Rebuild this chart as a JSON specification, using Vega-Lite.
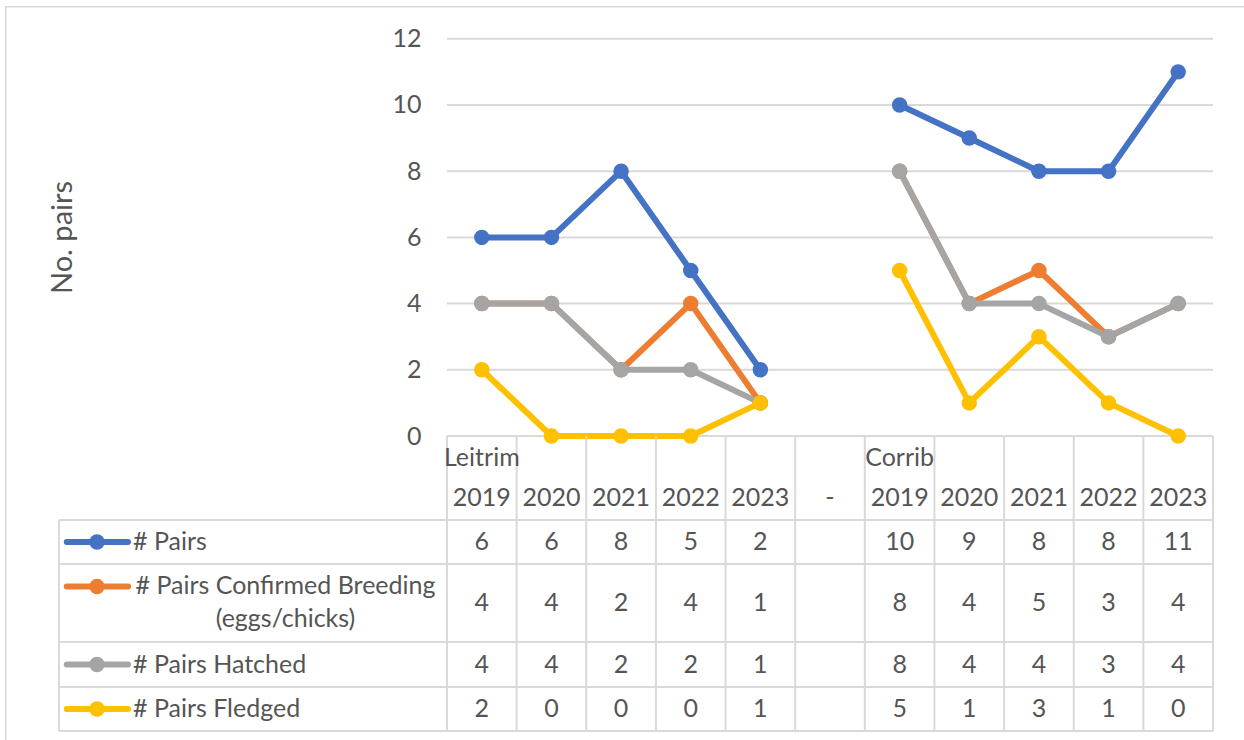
{
  "$schema": "https://vega.github.io/schema/vega-lite/v6.json",
  "padding": {"left": 5, "top": 5, "right": 0, "bottom": 0},
  "background": "white",
  "spacing": 0,
  "bounds": "flush",
  "datasets": {
    "values": [
      {"series": "# Pairs", "site": "Leitrim", "year": "2019", "col": "Leitrim 2019", "value": 6},
      {"series": "# Pairs", "site": "Leitrim", "year": "2020", "col": "Leitrim 2020", "value": 6},
      {"series": "# Pairs", "site": "Leitrim", "year": "2021", "col": "Leitrim 2021", "value": 8},
      {"series": "# Pairs", "site": "Leitrim", "year": "2022", "col": "Leitrim 2022", "value": 5},
      {"series": "# Pairs", "site": "Leitrim", "year": "2023", "col": "Leitrim 2023", "value": 2},
      {"series": "# Pairs", "site": "Corrib", "year": "2019", "col": "Corrib 2019", "value": 10},
      {"series": "# Pairs", "site": "Corrib", "year": "2020", "col": "Corrib 2020", "value": 9},
      {"series": "# Pairs", "site": "Corrib", "year": "2021", "col": "Corrib 2021", "value": 8},
      {"series": "# Pairs", "site": "Corrib", "year": "2022", "col": "Corrib 2022", "value": 8},
      {"series": "# Pairs", "site": "Corrib", "year": "2023", "col": "Corrib 2023", "value": 11},
      {"series": "# Pairs Confirmed Breeding (eggs/chicks)", "site": "Leitrim", "year": "2019", "col": "Leitrim 2019", "value": 4},
      {"series": "# Pairs Confirmed Breeding (eggs/chicks)", "site": "Leitrim", "year": "2020", "col": "Leitrim 2020", "value": 4},
      {"series": "# Pairs Confirmed Breeding (eggs/chicks)", "site": "Leitrim", "year": "2021", "col": "Leitrim 2021", "value": 2},
      {"series": "# Pairs Confirmed Breeding (eggs/chicks)", "site": "Leitrim", "year": "2022", "col": "Leitrim 2022", "value": 4},
      {"series": "# Pairs Confirmed Breeding (eggs/chicks)", "site": "Leitrim", "year": "2023", "col": "Leitrim 2023", "value": 1},
      {"series": "# Pairs Confirmed Breeding (eggs/chicks)", "site": "Corrib", "year": "2019", "col": "Corrib 2019", "value": 8},
      {"series": "# Pairs Confirmed Breeding (eggs/chicks)", "site": "Corrib", "year": "2020", "col": "Corrib 2020", "value": 4},
      {"series": "# Pairs Confirmed Breeding (eggs/chicks)", "site": "Corrib", "year": "2021", "col": "Corrib 2021", "value": 5},
      {"series": "# Pairs Confirmed Breeding (eggs/chicks)", "site": "Corrib", "year": "2022", "col": "Corrib 2022", "value": 3},
      {"series": "# Pairs Confirmed Breeding (eggs/chicks)", "site": "Corrib", "year": "2023", "col": "Corrib 2023", "value": 4},
      {"series": "# Pairs Hatched", "site": "Leitrim", "year": "2019", "col": "Leitrim 2019", "value": 4},
      {"series": "# Pairs Hatched", "site": "Leitrim", "year": "2020", "col": "Leitrim 2020", "value": 4},
      {"series": "# Pairs Hatched", "site": "Leitrim", "year": "2021", "col": "Leitrim 2021", "value": 2},
      {"series": "# Pairs Hatched", "site": "Leitrim", "year": "2022", "col": "Leitrim 2022", "value": 2},
      {"series": "# Pairs Hatched", "site": "Leitrim", "year": "2023", "col": "Leitrim 2023", "value": 1},
      {"series": "# Pairs Hatched", "site": "Corrib", "year": "2019", "col": "Corrib 2019", "value": 8},
      {"series": "# Pairs Hatched", "site": "Corrib", "year": "2020", "col": "Corrib 2020", "value": 4},
      {"series": "# Pairs Hatched", "site": "Corrib", "year": "2021", "col": "Corrib 2021", "value": 4},
      {"series": "# Pairs Hatched", "site": "Corrib", "year": "2022", "col": "Corrib 2022", "value": 3},
      {"series": "# Pairs Hatched", "site": "Corrib", "year": "2023", "col": "Corrib 2023", "value": 4},
      {"series": "# Pairs Fledged", "site": "Leitrim", "year": "2019", "col": "Leitrim 2019", "value": 2},
      {"series": "# Pairs Fledged", "site": "Leitrim", "year": "2020", "col": "Leitrim 2020", "value": 0},
      {"series": "# Pairs Fledged", "site": "Leitrim", "year": "2021", "col": "Leitrim 2021", "value": 0},
      {"series": "# Pairs Fledged", "site": "Leitrim", "year": "2022", "col": "Leitrim 2022", "value": 0},
      {"series": "# Pairs Fledged", "site": "Leitrim", "year": "2023", "col": "Leitrim 2023", "value": 1},
      {"series": "# Pairs Fledged", "site": "Corrib", "year": "2019", "col": "Corrib 2019", "value": 5},
      {"series": "# Pairs Fledged", "site": "Corrib", "year": "2020", "col": "Corrib 2020", "value": 1},
      {"series": "# Pairs Fledged", "site": "Corrib", "year": "2021", "col": "Corrib 2021", "value": 3},
      {"series": "# Pairs Fledged", "site": "Corrib", "year": "2022", "col": "Corrib 2022", "value": 1},
      {"series": "# Pairs Fledged", "site": "Corrib", "year": "2023", "col": "Corrib 2023", "value": 0}
    ],
    "columns": [
      {"col": "Leitrim 2019", "site": "Leitrim", "year": "2019"},
      {"col": "Leitrim 2020", "site": "Leitrim", "year": "2020"},
      {"col": "Leitrim 2021", "site": "Leitrim", "year": "2021"},
      {"col": "Leitrim 2022", "site": "Leitrim", "year": "2022"},
      {"col": "Leitrim 2023", "site": "Leitrim", "year": "2023"},
      {"col": "-", "site": "", "year": "-"},
      {"col": "Corrib 2019", "site": "Corrib", "year": "2019"},
      {"col": "Corrib 2020", "site": "Corrib", "year": "2020"},
      {"col": "Corrib 2021", "site": "Corrib", "year": "2021"},
      {"col": "Corrib 2022", "site": "Corrib", "year": "2022"},
      {"col": "Corrib 2023", "site": "Corrib", "year": "2023"}
    ],
    "ticks": [{"t": 0}, {"t": 2}, {"t": 4}, {"t": 6}, {"t": 8}, {"t": 10}, {"t": 12}]
  },
  "vconcat": [
    {
      "width": 1239, "height": 430,
      "resolve": {"scale": {"x": "independent"}},
      "layer": [
        {"data": {"values": [{}]}, "mark": {"type": "rule", "color": "#d9d9d9", "strokeWidth": 1.5},
         "encoding": {"x": {"datum": -6.336, "type": "quantitative", "scale": {"domain": [-6.347, 11.445], "nice": false, "zero": false}, "axis": null}}},
        {"data": {"values": [{}]}, "mark": {"type": "rule", "color": "#d9d9d9", "strokeWidth": 1.5},
         "encoding": {"x": {"datum": -6.336, "type": "quantitative", "scale": {"domain": [-6.347, 11.445], "nice": false, "zero": false}, "axis": null},
                      "x2": {"datum": 11.445},
                      "y": {"datum": 12.97, "type": "quantitative", "scale": {"domain": [0, 12.99], "nice": false, "zero": false}}}},
        {"data": {"name": "ticks"}, "mark": {"type": "rule", "color": "#d9d9d9", "strokeWidth": 2},
         "encoding": {"x": {"datum": 0, "type": "quantitative", "scale": {"domain": [-6.347, 11.445], "nice": false, "zero": false}, "axis": null},
                      "x2": {"datum": 11},
                      "y": {"field": "t", "type": "quantitative", "scale": {"domain": [0, 12.99], "nice": false, "zero": false}}}},
        {"data": {"name": "values"},
         "mark": {"type": "line", "strokeWidth": 6, "strokeJoin": "round", "strokeCap": "round",
                  "point": {"filled": true, "size": 240, "opacity": 1}},
         "encoding": {
           "x": {"field": "col", "type": "nominal", "scale": {"domain": ["Leitrim 2019","Leitrim 2020","Leitrim 2021","Leitrim 2022","Leitrim 2023","-","Corrib 2019","Corrib 2020","Corrib 2021","Corrib 2022","Corrib 2023"], "range": [442, 1208], "paddingInner": 0, "paddingOuter": 0}, "axis": null},
           "y": {"field": "value", "type": "quantitative",
                 "scale": {"domain": [0, 12.99], "nice": false, "zero": false},
                 "axis": {"values": [0, 2, 4, 6, 8, 10, 12], "offset": -442, "domain": false, "ticks": false, "grid": false,
                          "labelPadding": 26, "labelFont": "Lato", "labelFontSize": 25, "labelColor": "#555555",
                          "title": "No. pairs", "titleFont": "Lato", "titleFontSize": 29, "titleFontWeight": "normal",
                          "titleColor": "#555555", "titlePadding": 314, "titleY": 231}},
           "color": {"field": "series", "type": "nominal",
                     "scale": {"domain": ["# Pairs", "# Pairs Confirmed Breeding (eggs/chicks)", "# Pairs Hatched", "# Pairs Fledged"],
                               "range": ["#4472C4", "#ED7D31", "#A5A5A5", "#FFC000"]},
                     "legend": null},
           "detail": {"field": "site"}
         }}
      ]
    },
    {
      "width": 1239, "height": 40,
      "resolve": {"scale": {"x": "independent"}},
      "layer": [
        {"data": {"values": [{}]}, "mark": {"type": "rule", "color": "#d9d9d9", "strokeWidth": 1.5},
         "encoding": {"x": {"datum": -6.336, "type": "quantitative", "scale": {"domain": [-6.347, 11.445], "nice": false, "zero": false}, "axis": null}}},
        {"data": {"name": "columns"}, "mark": {"type": "rule", "color": "#d9d9d9", "strokeWidth": 2},
         "encoding": {"x": {"field": "col", "type": "nominal", "bandPosition": 0, "scale": {"domain": ["Leitrim 2019","Leitrim 2020","Leitrim 2021","Leitrim 2022","Leitrim 2023","-","Corrib 2019","Corrib 2020","Corrib 2021","Corrib 2022","Corrib 2023"], "range": [442, 1208], "paddingInner": 0, "paddingOuter": 0}, "axis": null}}},
        {"data": {"values": [{}]}, "mark": {"type": "rule", "color": "#d9d9d9", "strokeWidth": 2},
         "encoding": {"x": {"datum": 11, "type": "quantitative", "scale": {"domain": [-6.347, 11.445], "nice": false, "zero": false}, "axis": null}}},
        {"data": {"name": "columns"}, "transform": [{"filter": "datum.year == '2019'"}],
         "mark": {"type": "text", "baseline": "middle", "align": "center"},
         "encoding": {"x": {"field": "col", "type": "nominal", "scale": {"domain": ["Leitrim 2019","Leitrim 2020","Leitrim 2021","Leitrim 2022","Leitrim 2023","-","Corrib 2019","Corrib 2020","Corrib 2021","Corrib 2022","Corrib 2023"], "range": [442, 1208], "paddingInner": 0, "paddingOuter": 0}, "axis": null},
                      "y": {"datum": 0.45, "type": "quantitative", "scale": {"domain": [0, 1]}, "axis": null},
                      "text": {"field": "site"}}}
      ]
    },
    {
      "width": 1239, "height": 44,
      "resolve": {"scale": {"x": "independent"}},
      "layer": [
        {"data": {"values": [{}]}, "mark": {"type": "rule", "color": "#d9d9d9", "strokeWidth": 1.5},
         "encoding": {"x": {"datum": -6.336, "type": "quantitative", "scale": {"domain": [-6.347, 11.445], "nice": false, "zero": false}, "axis": null}}},
        {"data": {"name": "columns"}, "mark": {"type": "rule", "color": "#d9d9d9", "strokeWidth": 2},
         "encoding": {"x": {"field": "col", "type": "nominal", "bandPosition": 0, "scale": {"domain": ["Leitrim 2019","Leitrim 2020","Leitrim 2021","Leitrim 2022","Leitrim 2023","-","Corrib 2019","Corrib 2020","Corrib 2021","Corrib 2022","Corrib 2023"], "range": [442, 1208], "paddingInner": 0, "paddingOuter": 0}, "axis": null}}},
        {"data": {"values": [{}]}, "mark": {"type": "rule", "color": "#d9d9d9", "strokeWidth": 2},
         "encoding": {"x": {"datum": 11, "type": "quantitative", "scale": {"domain": [-6.347, 11.445], "nice": false, "zero": false}, "axis": null}}},
        {"data": {"name": "columns"},
         "mark": {"type": "text", "baseline": "middle", "align": "center"},
         "encoding": {"x": {"field": "col", "type": "nominal", "scale": {"domain": ["Leitrim 2019","Leitrim 2020","Leitrim 2021","Leitrim 2022","Leitrim 2023","-","Corrib 2019","Corrib 2020","Corrib 2021","Corrib 2022","Corrib 2023"], "range": [442, 1208], "paddingInner": 0, "paddingOuter": 0}, "axis": null},
                      "y": {"datum": 0.5, "type": "quantitative", "scale": {"domain": [0, 1]}, "axis": null},
                      "text": {"field": "year"}}}
      ]
    },
    {
      "width": 1239, "height": 44,
      "resolve": {"scale": {"x": "independent"}},
      "layer": [
        {"data": {"values": [{}]}, "mark": {"type": "rule", "color": "#d9d9d9", "strokeWidth": 1.5},
         "encoding": {"x": {"datum": -6.336, "type": "quantitative", "scale": {"domain": [-6.347, 11.445], "nice": false, "zero": false}, "axis": null}}},
        {"data": {"name": "columns"}, "mark": {"type": "rule", "color": "#d9d9d9", "strokeWidth": 2},
         "encoding": {"x": {"field": "col", "type": "nominal", "bandPosition": 0, "scale": {"domain": ["Leitrim 2019","Leitrim 2020","Leitrim 2021","Leitrim 2022","Leitrim 2023","-","Corrib 2019","Corrib 2020","Corrib 2021","Corrib 2022","Corrib 2023"], "range": [442, 1208], "paddingInner": 0, "paddingOuter": 0}, "axis": null}}},
        {"data": {"values": [{}]}, "mark": {"type": "rule", "color": "#d9d9d9", "strokeWidth": 2},
         "encoding": {"x": {"datum": 11, "type": "quantitative", "scale": {"domain": [-6.347, 11.445], "nice": false, "zero": false}, "axis": null}}},
        {"data": {"values": [{}]}, "mark": {"type": "rule", "color": "#d9d9d9", "strokeWidth": 2},
         "encoding": {"x": {"datum": -5.572, "type": "quantitative", "scale": {"domain": [-6.347, 11.445], "nice": false, "zero": false}, "axis": null}}},
        {"data": {"values": [{}]}, "mark": {"type": "rule", "color": "#d9d9d9", "strokeWidth": 2},
         "encoding": {"x": {"datum": -5.572, "type": "quantitative", "scale": {"domain": [-6.347, 11.445], "nice": false, "zero": false}, "axis": null},
                      "x2": {"datum": 11},
                      "y": {"datum": 1, "type": "quantitative", "scale": {"domain": [0, 1]}, "axis": null}}},
        {"data": {"values": [{}]}, "mark": {"type": "rule", "color": "#4472C4", "strokeWidth": 6, "strokeCap": "round"},
         "encoding": {"x": {"datum": -5.46, "type": "quantitative", "scale": {"domain": [-6.347, 11.445], "nice": false, "zero": false}, "axis": null},
                      "x2": {"datum": -4.58},
                      "y": {"datum": 0.5, "type": "quantitative", "scale": {"domain": [0, 1]}, "axis": null}}},
        {"data": {"values": [{}]}, "mark": {"type": "point", "filled": true, "size": 240, "opacity": 1, "color": "#4472C4"},
         "encoding": {"x": {"datum": -5.026, "type": "quantitative", "scale": {"domain": [-6.347, 11.445], "nice": false, "zero": false}, "axis": null},
                      "y": {"datum": 0.5, "type": "quantitative", "scale": {"domain": [0, 1]}, "axis": null}}},
        {"data": {"values": [{}]}, "mark": {"type": "text", "align": "left", "baseline": "middle", "text": "# Pairs"},
         "encoding": {"x": {"datum": -4.509, "type": "quantitative", "scale": {"domain": [-6.347, 11.445], "nice": false, "zero": false}, "axis": null},
                      "y": {"datum": 0.5, "type": "quantitative", "scale": {"domain": [0, 1]}, "axis": null}}},
        {"data": {"name": "values"}, "transform": [{"filter": "datum.series == '# Pairs'"}],
         "mark": {"type": "text", "baseline": "middle", "align": "center"},
         "encoding": {"x": {"field": "col", "type": "nominal", "scale": {"domain": ["Leitrim 2019","Leitrim 2020","Leitrim 2021","Leitrim 2022","Leitrim 2023","-","Corrib 2019","Corrib 2020","Corrib 2021","Corrib 2022","Corrib 2023"], "range": [442, 1208], "paddingInner": 0, "paddingOuter": 0}, "axis": null},
                      "y": {"datum": 0.5, "type": "quantitative", "scale": {"domain": [0, 1]}, "axis": null},
                      "text": {"field": "value"}}}
      ]
    },
    {
      "width": 1239, "height": 78,
      "resolve": {"scale": {"x": "independent"}},
      "layer": [
        {"data": {"values": [{}]}, "mark": {"type": "rule", "color": "#d9d9d9", "strokeWidth": 1.5},
         "encoding": {"x": {"datum": -6.336, "type": "quantitative", "scale": {"domain": [-6.347, 11.445], "nice": false, "zero": false}, "axis": null}}},
        {"data": {"name": "columns"}, "mark": {"type": "rule", "color": "#d9d9d9", "strokeWidth": 2},
         "encoding": {"x": {"field": "col", "type": "nominal", "bandPosition": 0, "scale": {"domain": ["Leitrim 2019","Leitrim 2020","Leitrim 2021","Leitrim 2022","Leitrim 2023","-","Corrib 2019","Corrib 2020","Corrib 2021","Corrib 2022","Corrib 2023"], "range": [442, 1208], "paddingInner": 0, "paddingOuter": 0}, "axis": null}}},
        {"data": {"values": [{}]}, "mark": {"type": "rule", "color": "#d9d9d9", "strokeWidth": 2},
         "encoding": {"x": {"datum": 11, "type": "quantitative", "scale": {"domain": [-6.347, 11.445], "nice": false, "zero": false}, "axis": null}}},
        {"data": {"values": [{}]}, "mark": {"type": "rule", "color": "#d9d9d9", "strokeWidth": 2},
         "encoding": {"x": {"datum": -5.572, "type": "quantitative", "scale": {"domain": [-6.347, 11.445], "nice": false, "zero": false}, "axis": null}}},
        {"data": {"values": [{}]}, "mark": {"type": "rule", "color": "#d9d9d9", "strokeWidth": 2},
         "encoding": {"x": {"datum": -5.572, "type": "quantitative", "scale": {"domain": [-6.347, 11.445], "nice": false, "zero": false}, "axis": null},
                      "x2": {"datum": 11},
                      "y": {"datum": 1, "type": "quantitative", "scale": {"domain": [0, 1]}, "axis": null}}},
        {"data": {"values": [{}]}, "mark": {"type": "rule", "color": "#ED7D31", "strokeWidth": 6, "strokeCap": "round"},
         "encoding": {"x": {"datum": -5.46, "type": "quantitative", "scale": {"domain": [-6.347, 11.445], "nice": false, "zero": false}, "axis": null},
                      "x2": {"datum": -4.58},
                      "y": {"datum": 0.71, "type": "quantitative", "scale": {"domain": [0, 1]}, "axis": null}}},
        {"data": {"values": [{}]}, "mark": {"type": "point", "filled": true, "size": 240, "opacity": 1, "color": "#ED7D31"},
         "encoding": {"x": {"datum": -5.026, "type": "quantitative", "scale": {"domain": [-6.347, 11.445], "nice": false, "zero": false}, "axis": null},
                      "y": {"datum": 0.71, "type": "quantitative", "scale": {"domain": [0, 1]}, "axis": null}}},
        {"data": {"values": [{}]}, "mark": {"type": "text", "align": "center", "baseline": "middle", "lineHeight": 33, "text": ["# Pairs Confirmed Breeding", "(eggs/chicks)"]},
         "encoding": {"x": {"datum": -2.319, "type": "quantitative", "scale": {"domain": [-6.347, 11.445], "nice": false, "zero": false}, "axis": null},
                      "y": {"datum": 0.715, "type": "quantitative", "scale": {"domain": [0, 1]}, "axis": null}}},
        {"data": {"name": "values"}, "transform": [{"filter": "datum.series == '# Pairs Confirmed Breeding (eggs/chicks)'"}],
         "mark": {"type": "text", "baseline": "middle", "align": "center"},
         "encoding": {"x": {"field": "col", "type": "nominal", "scale": {"domain": ["Leitrim 2019","Leitrim 2020","Leitrim 2021","Leitrim 2022","Leitrim 2023","-","Corrib 2019","Corrib 2020","Corrib 2021","Corrib 2022","Corrib 2023"], "range": [442, 1208], "paddingInner": 0, "paddingOuter": 0}, "axis": null},
                      "y": {"datum": 0.5, "type": "quantitative", "scale": {"domain": [0, 1]}, "axis": null},
                      "text": {"field": "value"}}}
      ]
    },
    {
      "width": 1239, "height": 45,
      "resolve": {"scale": {"x": "independent"}},
      "layer": [
        {"data": {"values": [{}]}, "mark": {"type": "rule", "color": "#d9d9d9", "strokeWidth": 1.5},
         "encoding": {"x": {"datum": -6.336, "type": "quantitative", "scale": {"domain": [-6.347, 11.445], "nice": false, "zero": false}, "axis": null}}},
        {"data": {"name": "columns"}, "mark": {"type": "rule", "color": "#d9d9d9", "strokeWidth": 2},
         "encoding": {"x": {"field": "col", "type": "nominal", "bandPosition": 0, "scale": {"domain": ["Leitrim 2019","Leitrim 2020","Leitrim 2021","Leitrim 2022","Leitrim 2023","-","Corrib 2019","Corrib 2020","Corrib 2021","Corrib 2022","Corrib 2023"], "range": [442, 1208], "paddingInner": 0, "paddingOuter": 0}, "axis": null}}},
        {"data": {"values": [{}]}, "mark": {"type": "rule", "color": "#d9d9d9", "strokeWidth": 2},
         "encoding": {"x": {"datum": 11, "type": "quantitative", "scale": {"domain": [-6.347, 11.445], "nice": false, "zero": false}, "axis": null}}},
        {"data": {"values": [{}]}, "mark": {"type": "rule", "color": "#d9d9d9", "strokeWidth": 2},
         "encoding": {"x": {"datum": -5.572, "type": "quantitative", "scale": {"domain": [-6.347, 11.445], "nice": false, "zero": false}, "axis": null}}},
        {"data": {"values": [{}]}, "mark": {"type": "rule", "color": "#d9d9d9", "strokeWidth": 2},
         "encoding": {"x": {"datum": -5.572, "type": "quantitative", "scale": {"domain": [-6.347, 11.445], "nice": false, "zero": false}, "axis": null},
                      "x2": {"datum": 11},
                      "y": {"datum": 1, "type": "quantitative", "scale": {"domain": [0, 1]}, "axis": null}}},
        {"data": {"values": [{}]}, "mark": {"type": "rule", "color": "#A5A5A5", "strokeWidth": 6, "strokeCap": "round"},
         "encoding": {"x": {"datum": -5.46, "type": "quantitative", "scale": {"domain": [-6.347, 11.445], "nice": false, "zero": false}, "axis": null},
                      "x2": {"datum": -4.58},
                      "y": {"datum": 0.5, "type": "quantitative", "scale": {"domain": [0, 1]}, "axis": null}}},
        {"data": {"values": [{}]}, "mark": {"type": "point", "filled": true, "size": 240, "opacity": 1, "color": "#A5A5A5"},
         "encoding": {"x": {"datum": -5.026, "type": "quantitative", "scale": {"domain": [-6.347, 11.445], "nice": false, "zero": false}, "axis": null},
                      "y": {"datum": 0.5, "type": "quantitative", "scale": {"domain": [0, 1]}, "axis": null}}},
        {"data": {"values": [{}]}, "mark": {"type": "text", "align": "left", "baseline": "middle", "text": "# Pairs Hatched"},
         "encoding": {"x": {"datum": -4.509, "type": "quantitative", "scale": {"domain": [-6.347, 11.445], "nice": false, "zero": false}, "axis": null},
                      "y": {"datum": 0.5, "type": "quantitative", "scale": {"domain": [0, 1]}, "axis": null}}},
        {"data": {"name": "values"}, "transform": [{"filter": "datum.series == '# Pairs Hatched'"}],
         "mark": {"type": "text", "baseline": "middle", "align": "center"},
         "encoding": {"x": {"field": "col", "type": "nominal", "scale": {"domain": ["Leitrim 2019","Leitrim 2020","Leitrim 2021","Leitrim 2022","Leitrim 2023","-","Corrib 2019","Corrib 2020","Corrib 2021","Corrib 2022","Corrib 2023"], "range": [442, 1208], "paddingInner": 0, "paddingOuter": 0}, "axis": null},
                      "y": {"datum": 0.5, "type": "quantitative", "scale": {"domain": [0, 1]}, "axis": null},
                      "text": {"field": "value"}}}
      ]
    },
    {
      "width": 1239, "height": 44,
      "resolve": {"scale": {"x": "independent"}},
      "layer": [
        {"data": {"values": [{}]}, "mark": {"type": "rule", "color": "#d9d9d9", "strokeWidth": 1.5},
         "encoding": {"x": {"datum": -6.336, "type": "quantitative", "scale": {"domain": [-6.347, 11.445], "nice": false, "zero": false}, "axis": null}}},
        {"data": {"name": "columns"}, "mark": {"type": "rule", "color": "#d9d9d9", "strokeWidth": 2},
         "encoding": {"x": {"field": "col", "type": "nominal", "bandPosition": 0, "scale": {"domain": ["Leitrim 2019","Leitrim 2020","Leitrim 2021","Leitrim 2022","Leitrim 2023","-","Corrib 2019","Corrib 2020","Corrib 2021","Corrib 2022","Corrib 2023"], "range": [442, 1208], "paddingInner": 0, "paddingOuter": 0}, "axis": null}}},
        {"data": {"values": [{}]}, "mark": {"type": "rule", "color": "#d9d9d9", "strokeWidth": 2},
         "encoding": {"x": {"datum": 11, "type": "quantitative", "scale": {"domain": [-6.347, 11.445], "nice": false, "zero": false}, "axis": null}}},
        {"data": {"values": [{}]}, "mark": {"type": "rule", "color": "#d9d9d9", "strokeWidth": 2},
         "encoding": {"x": {"datum": -5.572, "type": "quantitative", "scale": {"domain": [-6.347, 11.445], "nice": false, "zero": false}, "axis": null}}},
        {"data": {"values": [{}]}, "mark": {"type": "rule", "color": "#d9d9d9", "strokeWidth": 2},
         "encoding": {"x": {"datum": -5.572, "type": "quantitative", "scale": {"domain": [-6.347, 11.445], "nice": false, "zero": false}, "axis": null},
                      "x2": {"datum": 11},
                      "y": {"datum": 1, "type": "quantitative", "scale": {"domain": [0, 1]}, "axis": null}}},
        {"data": {"values": [{}]}, "mark": {"type": "rule", "color": "#d9d9d9", "strokeWidth": 2},
         "encoding": {"x": {"datum": -5.572, "type": "quantitative", "scale": {"domain": [-6.347, 11.445], "nice": false, "zero": false}, "axis": null},
                      "x2": {"datum": 11},
                      "y": {"datum": 0, "type": "quantitative", "scale": {"domain": [0, 1]}, "axis": null}}},
        {"data": {"values": [{}]}, "mark": {"type": "rule", "color": "#FFC000", "strokeWidth": 6, "strokeCap": "round"},
         "encoding": {"x": {"datum": -5.46, "type": "quantitative", "scale": {"domain": [-6.347, 11.445], "nice": false, "zero": false}, "axis": null},
                      "x2": {"datum": -4.58},
                      "y": {"datum": 0.5, "type": "quantitative", "scale": {"domain": [0, 1]}, "axis": null}}},
        {"data": {"values": [{}]}, "mark": {"type": "point", "filled": true, "size": 240, "opacity": 1, "color": "#FFC000"},
         "encoding": {"x": {"datum": -5.026, "type": "quantitative", "scale": {"domain": [-6.347, 11.445], "nice": false, "zero": false}, "axis": null},
                      "y": {"datum": 0.5, "type": "quantitative", "scale": {"domain": [0, 1]}, "axis": null}}},
        {"data": {"values": [{}]}, "mark": {"type": "text", "align": "left", "baseline": "middle", "text": "# Pairs Fledged"},
         "encoding": {"x": {"datum": -4.509, "type": "quantitative", "scale": {"domain": [-6.347, 11.445], "nice": false, "zero": false}, "axis": null},
                      "y": {"datum": 0.5, "type": "quantitative", "scale": {"domain": [0, 1]}, "axis": null}}},
        {"data": {"name": "values"}, "transform": [{"filter": "datum.series == '# Pairs Fledged'"}],
         "mark": {"type": "text", "baseline": "middle", "align": "center"},
         "encoding": {"x": {"field": "col", "type": "nominal", "scale": {"domain": ["Leitrim 2019","Leitrim 2020","Leitrim 2021","Leitrim 2022","Leitrim 2023","-","Corrib 2019","Corrib 2020","Corrib 2021","Corrib 2022","Corrib 2023"], "range": [442, 1208], "paddingInner": 0, "paddingOuter": 0}, "axis": null},
                      "y": {"datum": 0.5, "type": "quantitative", "scale": {"domain": [0, 1]}, "axis": null},
                      "text": {"field": "value"}}}
      ]
    },
    {
      "width": 1239, "height": 10,
      "layer": [
        {"data": {"values": [{}]}, "mark": {"type": "rule", "color": "#d9d9d9", "strokeWidth": 1.5},
         "encoding": {"x": {"datum": -6.336, "type": "quantitative", "scale": {"domain": [-6.347, 11.445], "nice": false, "zero": false}, "axis": null}}}
      ]
    }
  ],
  "config": {
    "view": {"stroke": null},
    "text": {"font": "Lato", "fontSize": 25, "color": "#555555"}
  }
}
